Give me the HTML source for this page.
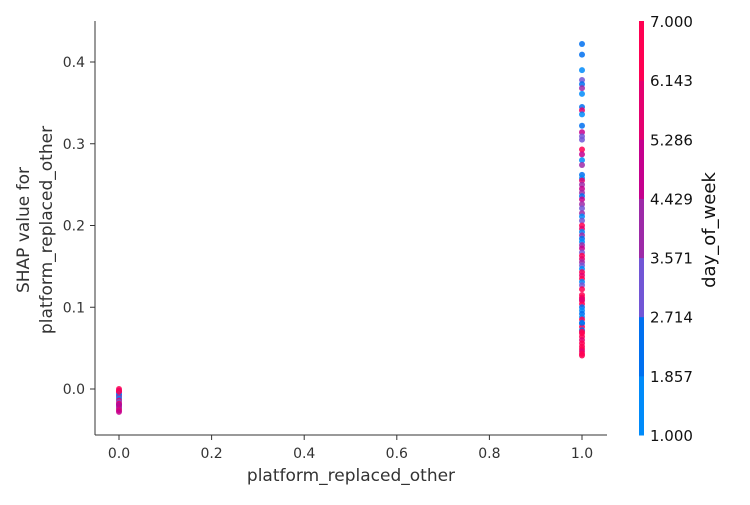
<!DOCTYPE html>
<html><head><meta charset="utf-8"><style>
body{margin:0;background:#fff;}
svg{font-family:"DejaVu Sans","Liberation Sans",sans-serif;}
</style></head><body>
<svg id="chart" width="750" height="500" xmlns="http://www.w3.org/2000/svg"></svg>
<script>
const xTicks=[0.0,0.2,0.4,0.6,0.8,1.0];
const yTicks=[0.0,0.1,0.2,0.3,0.4];
const cbTicks=["1.000","1.857","2.714","3.571","4.429","5.286","6.143","7.000"];
const bandColors=["#008bfa","#0070f0","#7256d6","#9d2aa8","#c5008e","#e4006f","#ff0052"];
const featureValues=[1,1,1,1,1,1,1,1,1,1,1,1,1,1,1,1,1,1,1,1,1,1,1,1,1,1,1,1,1,1,1,1,1,1,1,1,1,1,1,1,1,1,1,1,1,1,1,1,1,1,1,1,1,1,1,1,1,1,1,1,1,1,1,1,1,1,1,1,1,1,1,1,1,1,1,
0,0,0,0,0,0,0,0,0,0,0,0,0,0,0,0,0];
const shapValues=[0.422,0.409,0.390,0.378,0.373,0.368,0.361,0.345,0.341,0.336,0.322,0.314,0.309,0.305,0.293,0.287,0.280,0.274,0.262,0.258,0.255,0.250,0.245,0.240,0.236,0.232,0.226,0.221,0.215,0.211,0.206,0.200,0.196,0.192,0.188,0.184,0.180,0.176,0.172,0.167,0.163,0.159,0.155,0.151,0.147,0.143,0.139,0.135,0.131,0.127,0.122,0.112,0.108,0.104,0.100,0.096,0.092,0.088,0.085,0.080,0.076,0.072,0.068,0.064,0.060,0.056,0.052,0.049,0.046,0.043,0.041,0.115,0.110,0.081,0.070,
0.000,-0.002,-0.004,-0.006,-0.008,-0.010,-0.012,-0.014,-0.016,-0.018,-0.020,-0.022,-0.024,-0.026,-0.028,-0.003,-0.019];
const dayValues=[2,2,1,3,2,4,1,2,6,1,2,5,3,3,7,5,1,4,2,1,6,4,5,4,2,5,4,3,4,1,3,7,6,1,4,2,1,4,5,3,7,6,4,3,1,7,6,7,1,3,7,7,6,7,2,1,2,1,7,1,7,2,7,7,6,7,7,7,6,7,7,7,6,2,7,
7,6,5,1,2,4,1,6,3,7,2,5,4,6,5,7,5];

const svg=document.getElementById('chart');
const NS="http://www.w3.org/2000/svg";
function mk(t,a,p){const e=document.createElementNS(NS,t);for(const k in a)e.setAttribute(k,a[k]);(p||svg).appendChild(e);return e;}
const X=v=>119+v*463;
const Y=v=>389-v*817.5;
const color=d=>bandColors[Math.min(6,Math.max(0,Math.floor((d-1)/(6/7))))];

const pts=mk('g',{});


for(let i=0;i<shapValues.length;i++){
  const c=mk('circle',{cx:X(featureValues[i]),cy:Y(shapValues[i]),r:3,fill:color(dayValues[i]),'fill-opacity':0.85},pts);
  
  
}
const sl=mk('line',{x1:95,y1:21,x2:95,y2:435,stroke:'#333','stroke-width':1});


const sb=mk('line',{x1:95,y1:435,x2:607,y2:435,stroke:'#333','stroke-width':1});


xTicks.forEach(t=>{
  mk('line',{x1:X(t),y1:435,x2:X(t),y2:440,stroke:'#333'});
  const tx=mk('text',{x:X(t),y:458,'text-anchor':'middle','font-size':14,fill:'#333'});
  tx.textContent=t.toFixed(1);
  
  
});
yTicks.forEach(t=>{
  mk('line',{x1:90,y1:Y(t),x2:95,y2:Y(t),stroke:'#333'});
  const tx=mk('text',{x:85,y:Y(t)+5,'text-anchor':'end','font-size':14,fill:'#333'});
  tx.textContent=t.toFixed(1);
  
  
});
const xl=mk('text',{x:351,y:481,'text-anchor':'middle','font-size':17,fill:'#333'});
xl.textContent='platform_replaced_other';


const yl=mk('text',{transform:'translate(29,230) rotate(-90)','text-anchor':'middle','font-size':17,fill:'#333'});


const t1=mk('tspan',{x:0,dy:0},yl);t1.textContent='SHAP value for';
const t2=mk('tspan',{x:0,dy:23},yl);t2.textContent='platform_replaced_other';
const cb=mk('g',{});


const cbTop=21,cbBot=435,bh=(cbBot-cbTop)/7;
bandColors.forEach((c,i)=>{mk('rect',{x:639,y:cbBot-(i+1)*bh,width:5,height:bh+0.5,fill:c},cb);});
cbTicks.forEach((t,i)=>{
  const y=cbBot-i*(cbBot-cbTop)/7;
  const tx=mk('text',{x:650,y:y+6,'font-size':15,fill:'#111'},cb);
  tx.textContent=t;
  
  
});
const cl=mk('text',{transform:'translate(715,230) rotate(-90)','text-anchor':'middle','font-size':18,fill:'#111'});
cl.textContent='day_of_week';


</script>
</body></html>
